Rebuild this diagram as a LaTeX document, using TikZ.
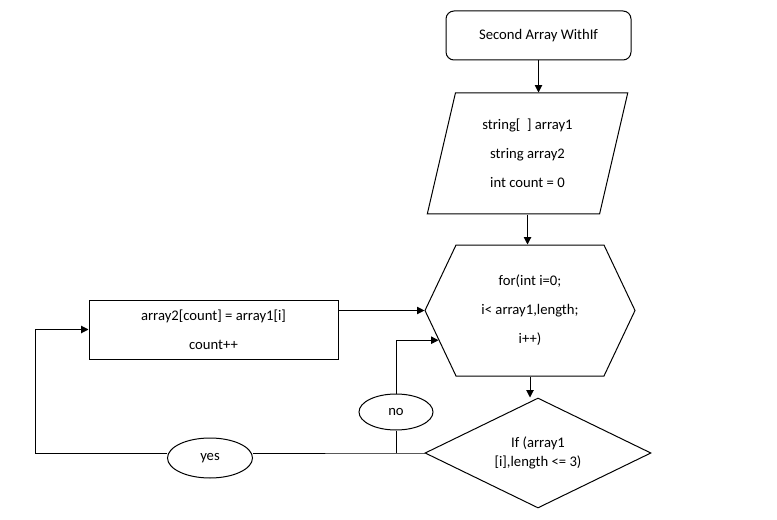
\documentclass[tikz,border=0pt]{standalone}
\usepackage{fontspec}
\setmainfont{Carlito}
\usetikzlibrary{positioning, arrows.meta, shapes.geometric, shapes.symbols}

\begin{document}
\begin{tikzpicture}[
  x=0.75pt, y=-0.75pt,
  line width=0.75pt,
  txt/.style={align=center, font=\fontsize{11}{21.75}\selectfont, inner sep=0pt},
  startbox/.style={txt, draw, rounded corners=6pt, minimum width=138.75pt,
    minimum height=36.75pt},
  iobox/.style={txt, draw, trapezium, trapezium left angle=75.6,
    trapezium right angle=104.4, trapezium stretches,
    minimum width=150.75pt, minimum height=90.75pt},
  loopbox/.style={txt, draw, signal, signal to=west and east,
    signal pointer angle=129.3, minimum width=157.5pt, minimum height=98.25pt},
  procbox/.style={txt, draw, minimum width=186.75pt, minimum height=44.25pt},
  condbox/.style={txt, draw, diamond, aspect=2.05, minimum width=169.5pt,
    minimum height=82.5pt, font=\fontsize{11}{14.25}\selectfont},
  tag/.style={txt, draw, ellipse, font=\fontsize{11}{13}\selectfont},
  arr/.style={-{Triangle[length=5.5pt, width=5.5pt]}}
]
  \useasboundingbox (0,0) rectangle (777,520);

  \node[startbox] (start) at (538.5,35.5) {Second Array WithIf};
  \node[iobox] (param) at (527.5,153.5)
    {string[\ \ ] array1\\string array2\\int count = 0};
  \node[loopbox] (loop) at (530,310.5)
    {for(int i=0;\\i< array1,length;\\i++)};
  \node[condbox] (cond) at (538,453) {If (array1\\{}[i],length <= 3)};
  \node[procbox] (body) at (213.5,329.5) {array2[count] = array1[i]\\count++};
  \node[tag, minimum width=55.5pt, minimum height=27pt] (no) at (396,412) {no};
  \node[tag, minimum width=63.75pt, minimum height=30pt] (yes) at (210,458) {yes};

  \coordinate (split) at (cond.west -| no.south);
  \coordinate (lft) at (35,453);

  \draw[arr] (start.south) -- (start.south |- param.north);
  \draw[arr] (param.south) -- (param.south |- loop.north);
  \draw[arr] (loop.south) -- (loop.south |- cond.north);
  \draw[arr] (body.east |- loop.west) -- (loop.west);
  \draw (cond.west) -- (split) -- (yes.east |- split);
  \draw[arr] (yes.west |- split) -- (lft) |- (body.west);
  \draw (split) -- (no);
  \draw[arr] (no) |- (loop.198);
\end{tikzpicture}
\end{document}
